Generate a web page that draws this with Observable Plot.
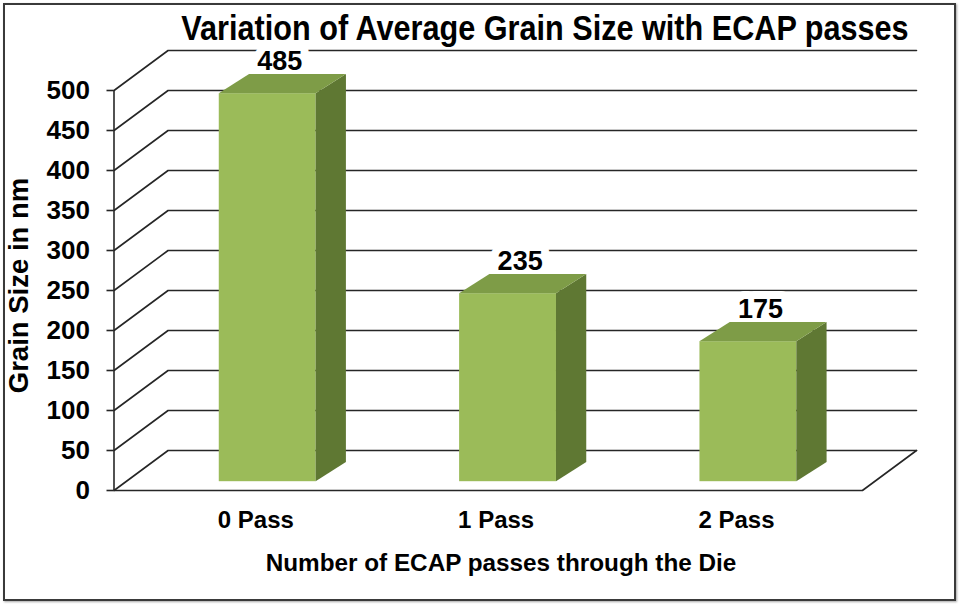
<!DOCTYPE html>
<html>
<head>
<meta charset="utf-8">
<script src="https://cdn.jsdelivr.net/npm/d3@7"></script>
<script src="https://cdn.jsdelivr.net/npm/@observablehq/plot@0.6"></script>
<style>
  html, body { margin: 0; padding: 0; background: #fff; }
  #wrap { position: relative; width: 960px; height: 607px; overflow: hidden; background: #fff; }
  #frame { position: absolute; left: 3px; top: 3px; width: 953px; height: 598px; box-sizing: border-box;
           border: 2px solid #3a3a3a; box-shadow: 1px 1px 2px rgba(0,0,0,0.35); }
  #chart { position: absolute; left: 0; top: 0; }
  #title { position: absolute; top: 13px; left: 545px; white-space: nowrap; color: #000;
           font: bold 35px "Liberation Sans", Arial, sans-serif; line-height: 0.85;
           transform: translateX(-50%) scaleX(0.875); transform-origin: 50% 50%; }
  #xtitle { position: absolute; top: 551px; left: 501px; white-space: nowrap; color: #000;
            font: bold 24.3px "Liberation Sans", Arial, sans-serif; line-height: 1;
            transform: translateX(-50%); }
</style>
</head>
<body>
<div id="wrap">
  <div id="frame"></div>
  <div id="chart"></div>
  <div id="title"></div>
  <div id="xtitle"></div>
</div>
<script>
// ---- data ----
const categories = ["0 Pass", "1 Pass", "2 Pass"];
const grainSize = [485, 235, 175];
const yTicks = [0, 50, 100, 150, 200, 250, 300, 350, 400, 450, 500];
const chartTitle = "Variation of Average Grain Size with ECAP passes";
const xTitle = "Number of ECAP passes through the Die";
const yTitle = "Grain Size in nm";

document.getElementById("title").textContent = chartTitle;
document.getElementById("xtitle").textContent = xTitle;

// ---- 3D geometry (in scale units) ----
const WALL_L = -0.59;     // front-left corner of the floor / axis line
const FLOOR_R = 2.524;    // front-right corner of the floor
const DX = 0.225;         // wall depth, x units
const DY = 50;            // wall depth, y units
const BAR_W = 0.403;
const fx = 0.22 * DX, fy = 0.22 * DY;   // bar front face offset
const bdx = 0.126, bdy = 24;            // bar depth
const yMax = d3.max(yTicks);

const bars = categories.map((c, i) => ({
  i, c, v: grainSize[i],
  x1: i - BAR_W / 2 + fx, x2: i + BAR_W / 2 + fx,
  y1: fy, y2: grainSize[i] + fy
}));
const sideFaces = bars.flatMap(b => [
  {i: b.i, x: b.x2, y1: b.y1, y2: b.y2},
  {i: b.i, x: b.x2 + bdx, y1: b.y1 + bdy, y2: b.y2 + bdy}
]);
const topFaces = bars.flatMap(b => [
  {i: b.i, y: b.y2, x1: b.x1, x2: b.x2},
  {i: b.i, y: b.y2 + bdy, x1: b.x1 + bdx, x2: b.x2 + bdx}
]);
const grid = yTicks.flatMap(t => [
  {t, x: WALL_L, y: t},
  {t, x: WALL_L + DX, y: t + DY},
  {t, x: FLOOR_R + DX, y: t + DY}
]);
const floorEdge = [
  {x: WALL_L, y: 0}, {x: FLOOR_R, y: 0}, {x: FLOOR_R + DX, y: DY}
];

const FONT = "'Liberation Sans', Arial, sans-serif";
const lineColor = "#262626";
const labelOpts = {
  x: b => b.i + fx + bdx * 0.4, y: b => b.y2 + bdy, text: b => String(b.v),
  lineAnchor: "bottom", dy: -5, fontSize: 27, fontWeight: "bold"
};

const chart = Plot.plot({
  width: 960,
  height: 607,
  marginLeft: 113.5,
  marginRight: 44,
  marginTop: 50,
  marginBottom: 117,
  style: {fontFamily: FONT, background: "transparent", color: "#000"},
  x: {type: "linear", domain: [WALL_L, FLOOR_R + DX]},
  y: {type: "linear", domain: [0, yMax + DY]},
  marks: [
    Plot.line(grid, {x: "x", y: "y", z: "t", stroke: lineColor, strokeWidth: 1.6}),
    Plot.line(floorEdge, {x: "x", y: "y", stroke: lineColor, strokeWidth: 1.6}),
    Plot.ruleX([WALL_L], {y1: 0, y2: yMax, stroke: lineColor, strokeWidth: 1.6}),
    // white label box (behind bars) that breaks the gridlines
    Plot.text(bars, {...labelOpts, fill: "white", stroke: "white", strokeWidth: 16}),
    Plot.rect(bars, {x1: "x1", x2: "x2", y1: "y1", y2: "y2", fill: "#9bbb59"}),
    Plot.areaY(sideFaces, {x: "x", y1: "y1", y2: "y2", z: "i", fill: "#5f7833"}),
    Plot.areaX(topFaces, {y: "y", x1: "x1", x2: "x2", z: "i", fill: "#7e9c47"}),
    Plot.text(bars, {...labelOpts, fill: "#000"}),
    Plot.axisY(yTicks, {
      anchor: "left", tickSize: 7, tickPadding: 17, stroke: lineColor, strokeWidth: 1.6,
      fontSize: 26, fontWeight: "bold", tickFormat: d => String(d), label: null
    }),
    Plot.axisX([0, 1, 2], {
      anchor: "bottom", tickSize: 0, tickPadding: 20,
      fontSize: 24, fontWeight: "bold",
      tickFormat: i => categories[i], label: null
    }),
    Plot.text([yTitle], {
      frameAnchor: "left", textAnchor: "middle", lineAnchor: "middle",
      rotate: -90, dx: -94.5, dy: 15,
      fontSize: 27.5, fontWeight: "bold", fill: "#000"
    })
  ]
});
document.getElementById("chart").appendChild(chart);
</script>
</body>
</html>
